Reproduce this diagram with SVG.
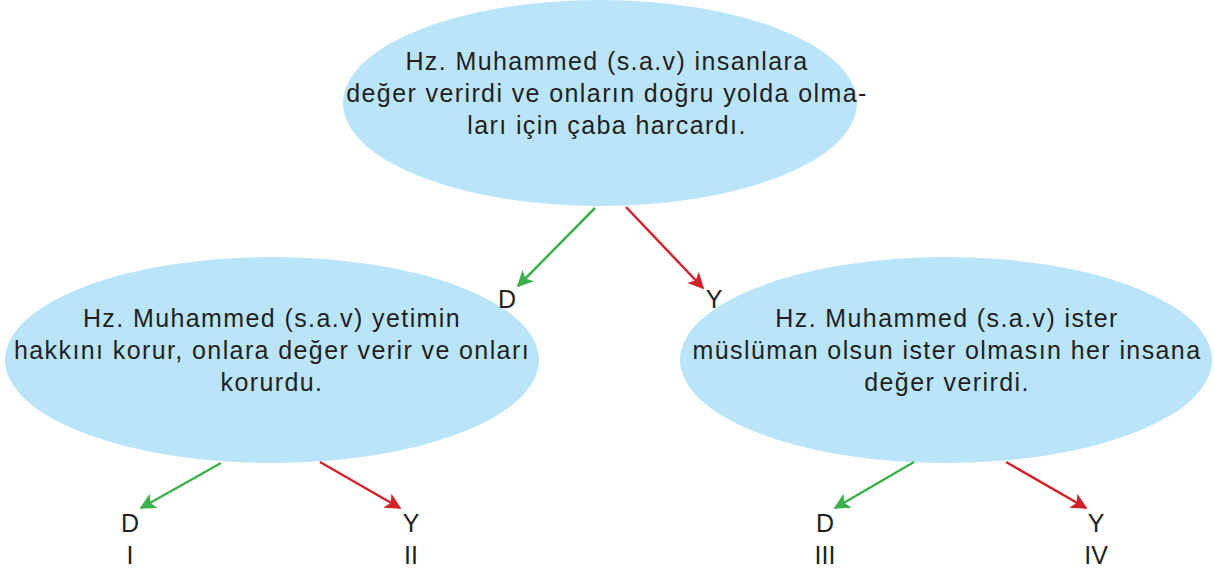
<svg xmlns="http://www.w3.org/2000/svg" width="1214" height="572" viewBox="0 0 1214 572">
<style>
.node{fill:#bae5f8}
.t{font-family:"Liberation Sans",Arial,sans-serif;font-size:25px;letter-spacing:1.4px;fill:#231f20;text-anchor:middle}
.l{font-family:"Liberation Sans",Arial,sans-serif;font-size:25px;fill:#231f20;text-anchor:middle}
.g{stroke:#3cb04a;stroke-width:2.5;fill:none}
.r{stroke:#d2232a;stroke-width:2.5;fill:none}
</style>
<defs>
<marker id="ag" viewBox="0 0 10 10" refX="9" refY="5" markerWidth="6.5" markerHeight="6.5" markerUnits="strokeWidth" orient="auto"><path d="M0,0 L10,5 L0,10 L2.5,5 z" fill="#3cb04a"/></marker>
<marker id="ar" viewBox="0 0 10 10" refX="9" refY="5" markerWidth="6.5" markerHeight="6.5" markerUnits="strokeWidth" orient="auto"><path d="M0,0 L10,5 L0,10 L2.5,5 z" fill="#d2232a"/></marker>
</defs>
<rect width="1214" height="572" fill="#fff"/>
<g id="top">
<ellipse class="node" cx="600" cy="103" rx="257" ry="103"/>
<text class="t" x="607" y="70">Hz. Muhammed (s.a.v) insanlara</text>
<text class="t" x="607" y="102">değer verirdi ve onların doğru yolda olma-</text>
<text class="t" x="607" y="134">ları için çaba harcardı.</text>
</g>
<g id="left">
<ellipse class="node" cx="272" cy="360" rx="267" ry="103"/>
<text class="t" x="272" y="327">Hz. Muhammed (s.a.v) yetimin</text>
<text class="t" x="272" y="359">hakkını korur, onlara değer verir ve onları</text>
<text class="t" x="272" y="391">korurdu.</text>
</g>
<g id="right">
<ellipse class="node" cx="946" cy="360" rx="266" ry="103"/>
<text class="t" x="947" y="327">Hz. Muhammed (s.a.v) ister</text>
<text class="t" x="947" y="359">müslüman olsun ister olmasın her insana</text>
<text class="t" x="947" y="391">değer verirdi.</text>
</g>
<g id="connectors">
<line class="g" x1="595" y1="208" x2="518" y2="286" marker-end="url(#ag)"/>
<line class="r" x1="626" y1="207" x2="703" y2="288" marker-end="url(#ar)"/>
<line class="g" x1="221" y1="463" x2="141" y2="508" marker-end="url(#ag)"/>
<line class="r" x1="320" y1="462" x2="400" y2="508" marker-end="url(#ar)"/>
<line class="g" x1="914" y1="462" x2="835" y2="508" marker-end="url(#ag)"/>
<line class="r" x1="1006" y1="462" x2="1086" y2="508" marker-end="url(#ar)"/>
</g>
<g id="labels">
<text class="l" x="507" y="308">D</text>
<text class="l" x="714" y="308">Y</text>
<text class="l" x="130" y="532">D</text>
<text class="l" x="130" y="564">I</text>
<text class="l" x="411" y="532">Y</text>
<text class="l" x="411" y="564">II</text>
<text class="l" x="825" y="532">D</text>
<text class="l" x="825" y="564">III</text>
<text class="l" x="1096" y="532">Y</text>
<text class="l" x="1096" y="564">IV</text>
</g>
</svg>
